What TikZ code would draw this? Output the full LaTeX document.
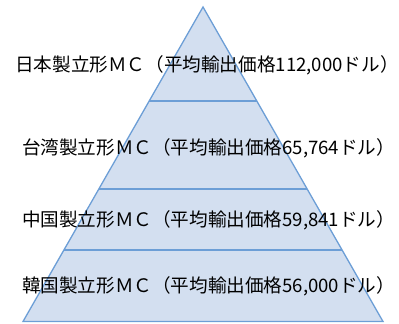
\documentclass[tikz,border=0pt]{standalone}
\usepackage{fontspec}
\newfontfamily\jp{Noto Sans CJK JP}
\usetikzlibrary{calc}
\definecolor{pyrfill}{RGB}{211,223,240}
\definecolor{pyrline}{RGB}{108,158,214}
\tikzset{
  label/.style={font=\jp\fontsize{18.6}{18.6}\selectfont, text=black, inner sep=0pt, anchor=center},
  divider/.style={draw=pyrline, line width=1.3pt},
}
\begin{document}
\begin{tikzpicture}[x=1pt,y=-1pt]
\useasboundingbox (0,0) rectangle (399,324);
\coordinate (A) at (203,7);
\coordinate (BL) at (23,321.5);
\coordinate (BR) at (383,321.5);
\fill[pyrfill] (A) -- (BL) -- (BR) -- cycle;
\coordinate (L1) at ($(A)!0.2989!(BL)$);
\coordinate (R1) at ($(A)!0.2989!(BR)$);
\coordinate (L2) at ($(A)!0.5787!(BL)$);
\coordinate (R2) at ($(A)!0.5787!(BR)$);
\coordinate (L3) at ($(A)!0.7727!(BL)$);
\coordinate (R3) at ($(A)!0.7727!(BR)$);
\draw[divider] (L1) -- (R1);
\draw[divider] (L2) -- (R2);
\draw[divider] (L3) -- (R3);
\draw[divider, line join=miter] (A) -- (BL) -- (BR) -- cycle;
\node[label] (t1) at (207,65) {日本製立形ＭＣ（平均輸出価格112,000ドル）};
\node[label] (t2) at (208.5,148) {台湾製立形ＭＣ（平均輸出価格65,764ドル）};
\node[label] (t3) at (208.5,220) {中国製立形ＭＣ（平均輸出価格59,841ドル）};
\node[label] (t4) at (208.5,286) {韓国製立形ＭＣ（平均輸出価格56,000ドル）};
\end{tikzpicture}
\end{document}
